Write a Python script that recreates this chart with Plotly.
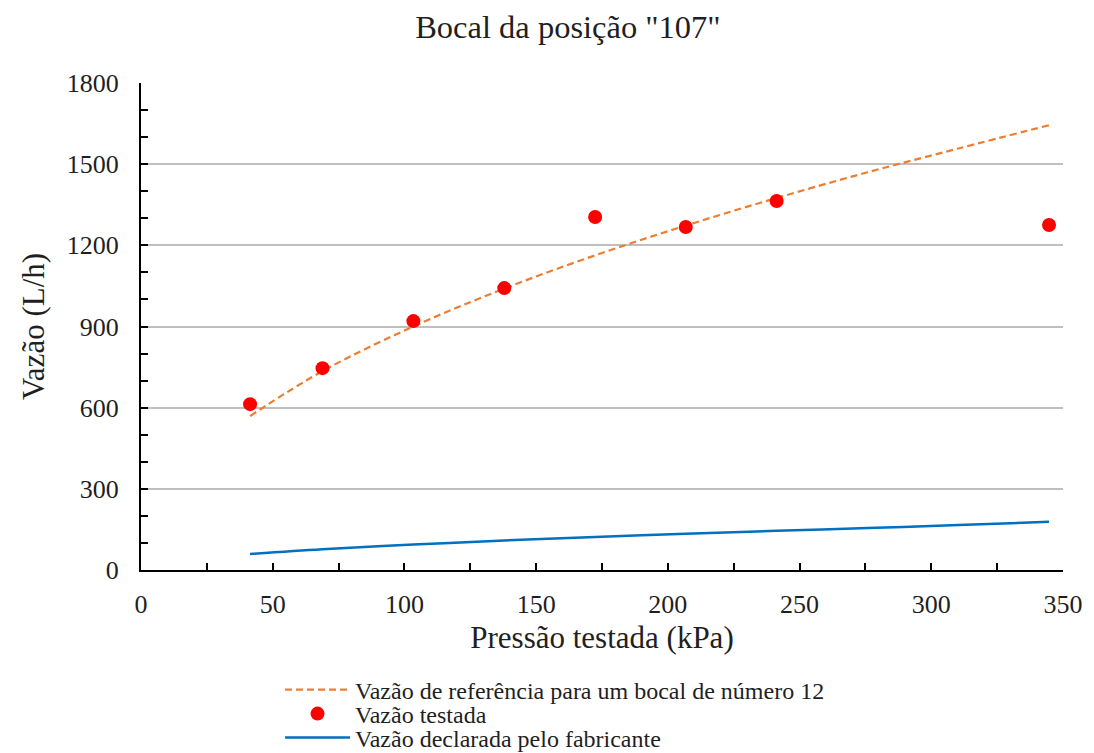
import plotly.graph_objects as go

# Pressures (kPa)
pressao = [41.4, 68.9, 103.4, 137.9, 172.4, 206.8, 241.3, 344.7]
# Measured flow (L/h)
vazao_testada = [613, 746, 920, 1042, 1305, 1268, 1364, 1275]

# Reference flow curve for nozzle no. 12 (L/h)
pressao_ref = [41.4, 68.9, 103.4, 137.9, 172.4, 206.8, 241.3, 275.8, 310.3, 344.7]
vazao_ref = [569, 735, 900, 1040, 1163, 1273, 1375, 1470, 1558, 1644]

# Manufacturer declared flow (L/h)
vazao_fab = [59, 77, 94, 109, 122, 134, 145, 155, 166, 178]

FONT = "Liberation Serif"
TXT = "#1f1f1f"

fig = go.Figure()
fig.add_trace(go.Scatter(
    x=pressao_ref, y=vazao_ref, mode="lines",
    name="Vazão de referência para um bocal de número 12",
    line=dict(color="#ED7D31", width=2.2, dash="7px,4px", shape="spline"),
    legend="legend",
))
fig.add_trace(go.Scatter(
    x=pressao, y=vazao_testada, mode="markers",
    name="Vazão testada",
    marker=dict(color="#FF0000", size=14),
    legend="legend2",
))
fig.add_trace(go.Scatter(
    x=pressao_ref, y=vazao_fab, mode="lines",
    name="Vazão declarada pelo fabricante",
    line=dict(color="#0070C0", width=2.5, shape="spline"),
    legend="legend3",
))

leg_common = dict(x=0.1508, xanchor="left", yanchor="middle", itemwidth=65,
                  font=dict(size=24, family=FONT, color=TXT),
                  bgcolor="rgba(0,0,0,0)")

fig.update_layout(
    width=1094, height=770,
    paper_bgcolor="white", plot_bgcolor="white",
    margin=dict(l=133, r=39, t=75, b=208),
    font=dict(family=FONT, color=TXT),
    title=dict(text='Bocal da posição "107"', xref="paper", x=0.463, xanchor="center",
               y=0.976, yanchor="middle", font=dict(size=32.5, family=FONT, color=TXT)),
    xaxis=dict(
        range=[0, 350], dtick=50, tick0=0,
        showgrid=False, zeroline=False,
        showline=True, linecolor="black", linewidth=2,
        ticks="inside", ticklen=7, tickwidth=2, tickcolor="black",
        minor=dict(dtick=25, ticks="inside", ticklen=7, tickwidth=2, tickcolor="black", showgrid=False),
        tickfont=dict(size=26, family=FONT, color=TXT),
        ticklabelstandoff=10,
        title=dict(text="Pressão testada (kPa)", font=dict(size=31, family=FONT, color=TXT), standoff=8),
    ),
    yaxis=dict(
        range=[0, 1800], dtick=300, tick0=0,
        showgrid=True, gridcolor="#BFBFBF", gridwidth=2,
        zeroline=False,
        showline=True, linecolor="black", linewidth=2,
        ticks="inside", ticklen=7, tickwidth=2, tickcolor="black",
        minor=dict(dtick=100, ticks="inside", ticklen=7, tickwidth=2, tickcolor="black", showgrid=False),
        tickfont=dict(size=26, family=FONT, color=TXT),
        ticklabelstandoff=15,
        title=dict(text="Vazão (L/h)", font=dict(size=31, family=FONT, color=TXT), standoff=13),
    ),
    legend=dict(y=-0.2464, **leg_common),
    legend2=dict(y=-0.2957, **leg_common),
    legend3=dict(y=-0.345, **leg_common),
    showlegend=True,
)

fig.write_html("out.html")
